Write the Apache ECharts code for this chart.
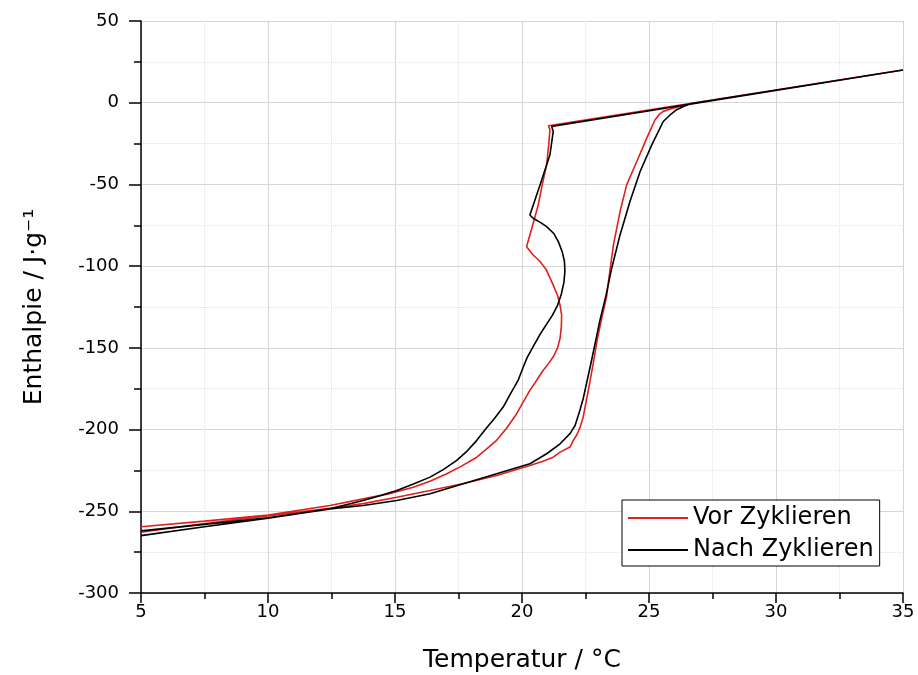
<!DOCTYPE html>
<html>
<head>
<meta charset="utf-8">
<script src="https://cdn.jsdelivr.net/npm/echarts@6/dist/echarts.min.js"></script>
<style>
html,body{margin:0;padding:0;background:#fff;}
#chart{width:918px;height:675px;}
</style>
</head>
<body>
<div id="chart"></div>
<script>
// Vor Zyklieren (red): heating branch then cooling branch (closed loop)
const vorT = [5, 7.5, 10, 12.5, 13.75, 15.07, 16.38, 17.7, 19, 20.31, 20.8, 21.23, 21.5, 21.89, 22.02, 22.15, 22.28, 22.41, 22.61, 22.8, 22.96, 23.15, 23.33, 23.42, 23.6, 23.86, 24.12, 24.52, 24.91, 25.24, 25.4, 25.56, 25.96, 26.3, 26.68, 35,
  21.04, 21.1, 21.05, 20.97, 20.8, 20.64, 20.4, 20.18, 20.44, 20.7, 20.95, 21.23, 21.4, 21.5, 21.56, 21.55, 21.5, 21.4, 21.25, 21.05, 20.8, 20.58, 20.31, 20.05, 19.79, 19.4, 19.0, 18.6, 18.22, 17.6, 17.04, 16.4, 15.72, 14.7, 13.75, 12.44, 10, 7.5, 5];
const vorH = [-262.8, -257.5, -252.8, -248, -245.3, -241.4, -237.3, -233, -228.1, -222, -219.5, -216.9, -213.8, -210.7, -206.6, -203.5, -199, -192.3, -176, -160, -145.3, -131, -118.8, -107.5, -87, -66.6, -50.3, -36, -21.7, -10.4, -7.2, -5.3, -3.3, -1.8, -0.3, 20,
  -14.1, -16.6, -26, -38, -50, -62.5, -76, -88.1, -93.2, -97, -102, -111.6, -118, -124, -130, -137, -144, -150, -155, -159.5, -164.5, -169.8, -176, -183, -190.3, -199, -206.6, -212, -216.9, -222.5, -227, -231.5, -235.3, -239.5, -242.4, -246.5, -252.3, -256, -259.5];

// Nach Zyklieren (black)
const nachT = [5, 7.5, 10, 12.44, 13.75, 15.07, 16.38, 17.69, 19, 20.31, 20.97, 21.5, 21.89, 22.09, 22.28, 22.41, 22.74, 23.07, 23.31, 23.53, 23.86, 24.25, 24.65, 25.11, 25.56, 25.83, 26.09, 26.4, 26.68, 35,
  21.17, 21.23, 21.1, 20.71, 20.31, 20.44, 20.75, 20.97, 21.25, 21.43, 21.58, 21.67, 21.69, 21.65, 21.55, 21.4, 21.2, 20.97, 20.7, 20.45, 20.2, 20.05, 19.85, 19.55, 19.26, 18.9, 18.6, 18.22, 17.85, 17.43, 16.9, 16.38, 15.7, 15.07, 14.4, 13.75, 12.44, 10, 7.5, 5];
const nachH = [-264.9, -259.5, -254.2, -248.5, -246.5, -243.4, -239.3, -233.2, -227, -220.9, -214.8, -208.7, -202.5, -197.5, -188.2, -181, -157.6, -133, -117.7, -101.4, -80.9, -60.5, -42.1, -25.8, -11.5, -7.5, -4.3, -2, -0.5, 20,
  -14.5, -17.6, -31.9, -50.3, -68.7, -70.7, -73.5, -75.8, -80, -85, -91, -97, -103, -110, -117, -124, -130, -135.5, -142, -149, -156, -161.7, -169.8, -178, -186.2, -193.5, -199, -206.6, -213, -218.9, -224.5, -229.1, -233.5, -237.3, -240.5, -243.4, -248.5, -254, -258, -262];

const seriesNames = ['Vor Zyklieren', 'Nach Zyklieren'];
const xTitle = 'Temperatur / °C';
const yTitle = 'Enthalpie / J·g⁻¹';

const zip = (a, b) => a.map((v, i) => [v, b[i]]);
const FONT = 'DejaVu Sans';

const chart = echarts.init(document.getElementById('chart'));
chart.setOption({
  animation: false,
  backgroundColor: '#fff',
  grid: { left: 141, right: 15, top: 21, bottom: 82, containLabel: false, outerBoundsMode: 'none' },
  xAxis: {
    type: 'value', min: 5, max: 35, interval: 5,
    name: xTitle, nameLocation: 'middle', nameGap: 55,
    nameTextStyle: { fontFamily: FONT, fontSize: 25, color: '#000' },
    axisLine: { show: true, onZero: false, lineStyle: { color: '#000', width: 1.5 } },
    axisTick: { show: true, inside: false, length: 10, lineStyle: { color: '#000', width: 1.5 } },
    minorTick: { show: true, splitNumber: 2, length: 6, lineStyle: { color: '#000', width: 1.5 } },
    axisLabel: { fontFamily: FONT, fontSize: 18, color: '#000', margin: 10 },
    splitLine: { show: true, lineStyle: { color: '#d6d6d6', width: 1 } },
    minorSplitLine: { show: true, lineStyle: { color: '#e2e2e2', width: 1, type: 'dotted' } }
  },
  yAxis: {
    type: 'value', min: -300, max: 50, interval: 50,
    name: yTitle, nameLocation: 'middle', nameGap: 94, nameRotate: 90,
    nameTextStyle: { fontFamily: FONT, fontSize: 25, color: '#000' },
    axisLine: { show: true, onZero: false, lineStyle: { color: '#000', width: 1.5 } },
    axisTick: { show: true, inside: false, length: 12, lineStyle: { color: '#000', width: 1.5 } },
    minorTick: { show: true, splitNumber: 2, length: 7, lineStyle: { color: '#000', width: 1.5 } },
    axisLabel: { fontFamily: FONT, fontSize: 18, color: '#000', margin: 22 },
    splitLine: { show: true, lineStyle: { color: '#d6d6d6', width: 1 } },
    minorSplitLine: { show: true, lineStyle: { color: '#e2e2e2', width: 1, type: 'dotted' } }
  },
  legend: {
    orient: 'vertical', left: 622, top: 500,
    backgroundColor: '#fff', borderColor: '#000', borderWidth: 1,
    padding: [6, 6, 4, 6], itemGap: 8,
    itemWidth: 60, itemHeight: 2, icon: 'rect',
    textStyle: { fontFamily: FONT, fontSize: 24, color: '#000' },
    data: seriesNames
  },
  series: [
    {
      name: seriesNames[0], type: 'line', data: zip(vorT, vorH),
      symbol: 'none', smooth: false, z: 2,
      itemStyle: { color: '#e0201c' },
      lineStyle: { color: '#e0201c', width: 1.6 }
    },
    {
      name: seriesNames[1], type: 'line', data: zip(nachT, nachH),
      symbol: 'none', smooth: false, z: 3,
      itemStyle: { color: '#000' },
      lineStyle: { color: '#000', width: 1.6 }
    }
  ]
});
</script>
</body>
</html>
